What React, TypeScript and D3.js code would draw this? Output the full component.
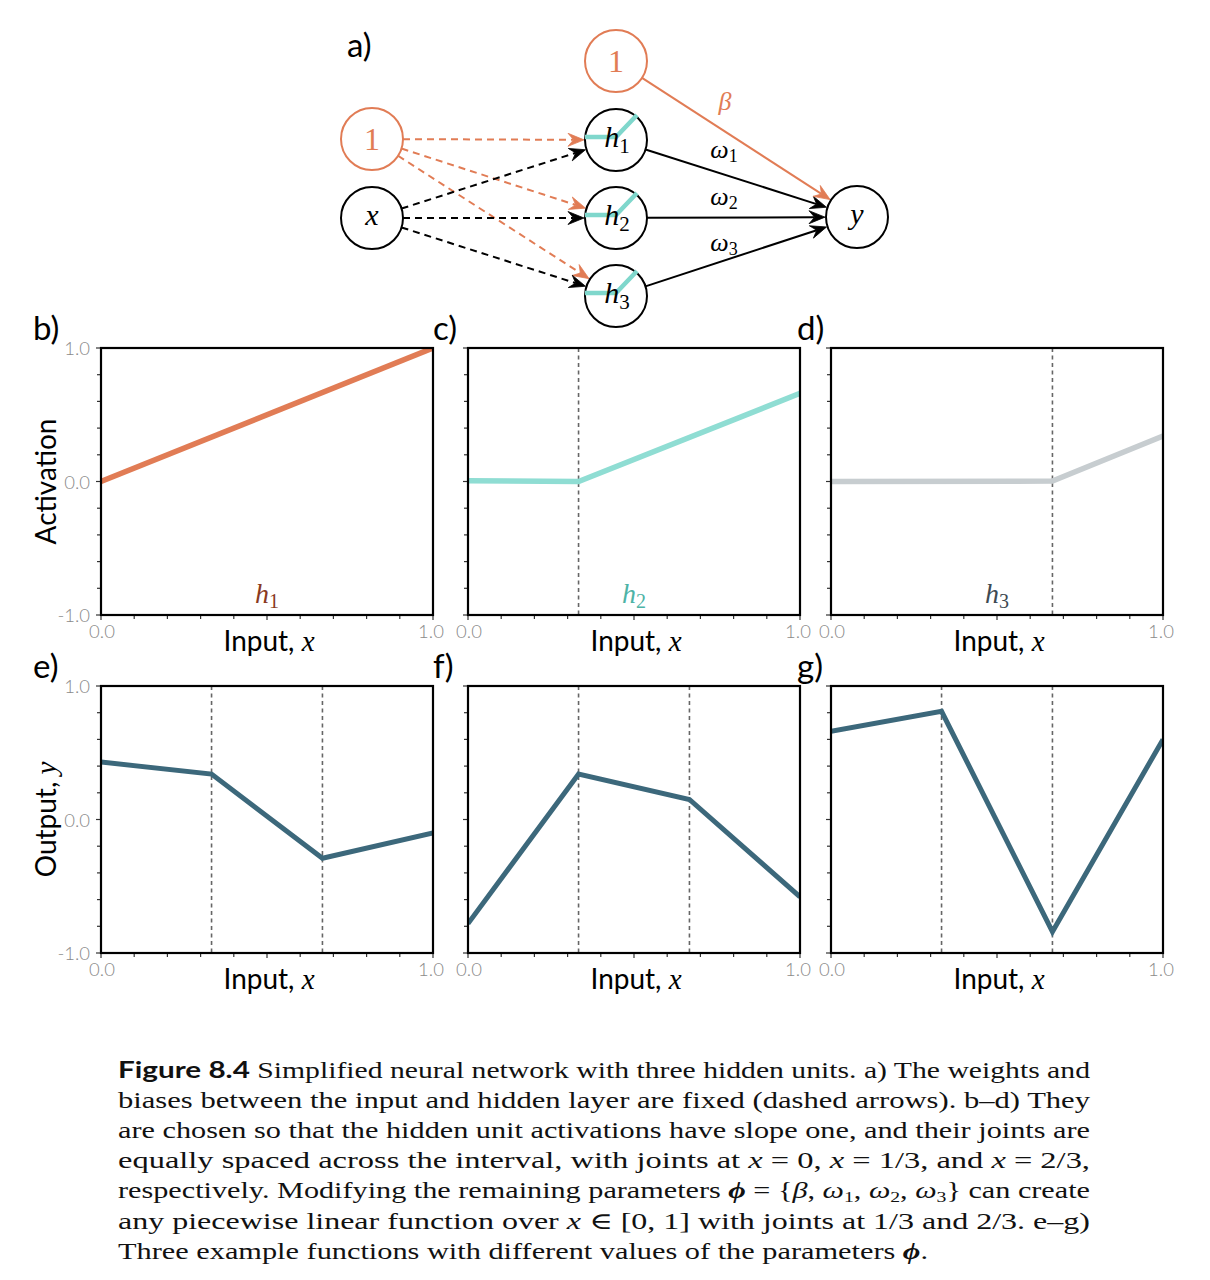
import React from "react";
import * as d3 from "d3";

// ---------- data ----------
const h1X = [0, 1];
const h1Y = [0, 1];
const h2X = [0, 0.333, 1];
const h2Y = [0.005, 0, 0.66];
const h3X = [0, 0.667, 1];
const h3Y = [0, 0.003, 0.34];
const outX = [0, 0.333, 0.667, 1];
const eY = [0.43, 0.34, -0.29, -0.1];
const fY = [-0.78, 0.34, 0.15, -0.58];
const gY = [0.66, 0.81, -0.84, 0.6];
const joints1 = [0.333];
const joints2 = [0.667];
const jointsOut = [0.333, 0.667];
const xTickVals = [0, 0.1, 0.2, 0.3, 0.4, 0.5, 0.6, 0.7, 0.8, 0.9, 1];
const yTickVals = [-1, -0.8, -0.6, -0.4, -0.2, 0, 0.2, 0.4, 0.6, 0.8, 1];
const xTickLabels = ["0.0", "1.0"];
const yTickLabels = ["-1.0", "0.0", "1.0"];
const panelLetters = ["b)", "c)", "d)", "e)", "f)", "g)"];

const ORANGE = "#E17C55";
const TEAL = "#8FDDD3";
const GRAYL = "#C7CDD0";
const DARK = "#3C687B";
const SANS = "Lato, 'Open Sans', sans-serif";
const SERIF = "'Liberation Serif', 'DejaVu Serif', serif";

const colLeft = [101, 468, 831];
const letterX = [33, 433, 797];
const rowTop = [348, 686];
const PW = 332;
const PH = 267;

type PanelSpec = {
  col: number;
  row: number;
  xs: number[];
  ys: number[];
  color: string;
  width: number;
  joints: number[];
  hLabel?: { sub: string; color: string };
  yLabel?: string;
};

const panels: PanelSpec[] = [
  { col: 0, row: 0, xs: h1X, ys: h1Y, color: ORANGE, width: 5.5, joints: [], hLabel: { sub: "1", color: "#8A3A1E" }, yLabel: "Activation" },
  { col: 1, row: 0, xs: h2X, ys: h2Y, color: TEAL, width: 5.5, joints: joints1, hLabel: { sub: "2", color: "#4DB3A6" } },
  { col: 2, row: 0, xs: h3X, ys: h3Y, color: GRAYL, width: 5.5, joints: joints2, hLabel: { sub: "3", color: "#3E4A52" } },
  { col: 0, row: 1, xs: outX, ys: eY, color: DARK, width: 5, joints: jointsOut, yLabel: "Output" },
  { col: 1, row: 1, xs: outX, ys: fY, color: DARK, width: 5, joints: jointsOut },
  { col: 2, row: 1, xs: outX, ys: gY, color: DARK, width: 5, joints: jointsOut },
];

function Panel({ p, idx }: { p: PanelSpec; idx: number }) {
  const left = colLeft[p.col];
  const top = rowTop[p.row];
  const x = d3.scaleLinear().domain([0, 1]).range([left, left + PW]);
  const y = d3.scaleLinear().domain([-1, 1]).range([top + PH, top]);
  const line = d3
    .line<number>()
    .x((_, i) => x(p.xs[i]))
    .y((d) => y(d));
  const bottom = top + PH;
  return (
    <g>
      <defs>
        <clipPath id={`clip${idx}`}>
          <rect x={left} y={top} width={PW} height={PH} />
        </clipPath>
      </defs>
      {p.joints.map((j, i) => (
        <line key={i} x1={x(j)} x2={x(j)} y1={top} y2={bottom} stroke="#666" strokeWidth={1.6} strokeDasharray="4,3.5" />
      ))}
      <path d={line(p.ys) || ""} fill="none" stroke={p.color} strokeWidth={p.width} strokeLinejoin="miter" clipPath={`url(#clip${idx})`} />
      {xTickVals.map((t, i) => (
        <line key={"xt" + i} x1={x(t)} x2={x(t)} y1={bottom} y2={bottom + (t === 0 || t === 0.5 || t === 1 ? 5 : 4)} stroke="#333" strokeWidth={1.2} />
      ))}
      {yTickVals.map((t, i) => (
        <line key={"yt" + i} x1={left} x2={left - (Math.abs(t) === 1 || t === 0 ? 5 : 4)} y1={y(t)} y2={y(t)} stroke="#333" strokeWidth={1.2} />
      ))}
      <rect x={left} y={top} width={PW} height={PH} fill="none" stroke="#000" strokeWidth={2.2} />
      {xTickLabels.map((l, i) => (
        <text key={"xl" + i} x={x(+l) + (i === 0 ? 1 : -2)} y={bottom + 23} textAnchor="middle" fontFamily={SANS} fontWeight={300} fontSize={18.5} fill="#8a8a8a">
          {l}
        </text>
      ))}
      {p.col === 0 &&
        yTickLabels.map((l, i) => (
          <text key={"yl" + i} x={left - 11} y={y(+l) + 7} textAnchor="end" fontFamily={SANS} fontWeight={300} fontSize={18.5} fill="#8a8a8a">
            {l}
          </text>
        ))}
      <text x={left + PW / 2 + 2} y={bottom + 36} textAnchor="middle" fontFamily={SANS} fontSize={28} fill="#000">
        Input,{" "}
        <tspan fontFamily={SERIF} fontStyle="italic" fontSize={29}>x</tspan>
      </text>
      {p.yLabel && (
        <text transform={`translate(${left - 45},${top + PH / 2}) rotate(-90)`} textAnchor="middle" fontFamily={SANS} fontSize={28} fill="#000">
          {p.yLabel}
          {p.yLabel === "Output" ? (
            <>
              ,{" "}
              <tspan fontFamily={SERIF} fontStyle="italic" fontSize={29}>y</tspan>
            </>
          ) : null}
        </text>
      )}
      {p.hLabel && (
        <text x={left + PW / 2} y={bottom - 12} textAnchor="middle" fontFamily={SERIF} fontStyle="italic" fontSize={28} fill={p.hLabel.color}>
          h
          <tspan fontStyle="normal" fontSize={20} dy={5}>{p.hLabel.sub}</tspan>
        </text>
      )}
      <text x={letterX[p.col]} y={top - 8} fontFamily={SANS} fontSize={33} fill="#000">
        {panelLetters[idx]}
      </text>
    </g>
  );
}

// ---------- network ----------
const R = 31;
const nodes: Record<string, { x: number; y: number }> = {
  top1: { x: 616, y: 61 },
  b1: { x: 372, y: 139 },
  x: { x: 372, y: 218 },
  h1: { x: 616, y: 140 },
  h2: { x: 616, y: 218 },
  h3: { x: 616, y: 296 },
  y: { x: 857, y: 217 },
};
type Edge = { from: string; to: string; color: string; dashed: boolean };
const edges: Edge[] = [
  { from: "b1", to: "h1", color: ORANGE, dashed: true },
  { from: "b1", to: "h2", color: ORANGE, dashed: true },
  { from: "b1", to: "h3", color: ORANGE, dashed: true },
  { from: "x", to: "h1", color: "#000", dashed: true },
  { from: "x", to: "h2", color: "#000", dashed: true },
  { from: "x", to: "h3", color: "#000", dashed: true },
  { from: "h1", to: "y", color: "#000", dashed: false },
  { from: "h2", to: "y", color: "#000", dashed: false },
  { from: "h3", to: "y", color: "#000", dashed: false },
  { from: "top1", to: "y", color: ORANGE, dashed: false },
];

function Arrow({ e }: { e: Edge }) {
  const a = nodes[e.from];
  const b = nodes[e.to];
  const dx = b.x - a.x;
  const dy = b.y - a.y;
  const L = Math.hypot(dx, dy);
  const ux = dx / L;
  const uy = dy / L;
  const sx = a.x + ux * R;
  const sy = a.y + uy * R;
  const tx = b.x - ux * (R + 1);
  const ty = b.y - uy * (R + 1);
  const ah = 16;
  const aw = 6.5;
  const bx = tx - ux * ah;
  const by = ty - uy * ah;
  const nx = -uy;
  const ny = ux;
  const notchX = tx - ux * ah * 0.65;
  const notchY = ty - uy * ah * 0.65;
  const head = `M${tx},${ty} L${bx + nx * aw},${by + ny * aw} L${notchX},${notchY} L${bx - nx * aw},${by - ny * aw} Z`;
  return (
    <g>
      <line x1={sx} y1={sy} x2={notchX} y2={notchY} stroke={e.color} strokeWidth={2} strokeDasharray={e.dashed ? "7,5" : undefined} />
      <path d={head} fill={e.color} stroke={e.color} strokeWidth={0.8} strokeLinejoin="round" />
    </g>
  );
}

function Network() {
  return (
    <g>
      <text x={347} y={57} fontFamily={SANS} fontSize={33} fill="#000">a)</text>
      {edges.map((e, i) => (
        <Arrow key={i} e={e} />
      ))}
      {Object.entries(nodes).map(([k, n]) => (
        <circle key={k} cx={n.x} cy={n.y} r={R} fill="#fff" stroke={k === "top1" || k === "b1" ? ORANGE : "#000"} strokeWidth={2} />
      ))}
      {["h1", "h2", "h3"].map((k) => {
        const n = nodes[k];
        return (
          <path key={"g" + k} d={`M${n.x - R},${n.y - 3} L${n.x},${n.y - 3} L${n.x + 21},${n.y - 25}`} fill="none" stroke="#7FD7CC" strokeWidth={4.5} />
        );
      })}
      {["top1", "b1"].map((k) => (
        <text key={"t" + k} x={nodes[k].x} y={nodes[k].y + 11} textAnchor="middle" fontFamily={SERIF} fontSize={32} fill={ORANGE}>1</text>
      ))}
      <text x={nodes.x.x} y={nodes.x.y + 7} textAnchor="middle" fontFamily={SERIF} fontStyle="italic" fontSize={30}>x</text>
      <text x={nodes.y.x} y={nodes.y.y + 7} textAnchor="middle" fontFamily={SERIF} fontStyle="italic" fontSize={30}>y</text>
      {["h1", "h2", "h3"].map((k, i) => (
        <text key={"l" + k} x={nodes[k].x + 1} y={nodes[k].y + 7} textAnchor="middle" fontFamily={SERIF} fontStyle="italic" fontSize={30}>
          h<tspan fontStyle="normal" fontSize={21} dy={6}>{i + 1}</tspan>
        </text>
      ))}
      <text x={725} y={110} textAnchor="middle" fontFamily={SERIF} fontStyle="italic" fontSize={26} fill={ORANGE}>β</text>
      {[1, 2, 3].map((i) => (
        <text key={"w" + i} x={724} y={[158, 205, 251][i - 1]} textAnchor="middle" fontFamily={SERIF} fontStyle="italic" fontSize={26}>
          ω<tspan fontStyle="normal" fontSize={18} dy={4}>{i}</tspan>
        </text>
      ))}
    </g>
  );
}

// ---------- caption ----------
const CAP_LEFT = 118;
const CAP_TOP = 1078;
const CAP_LH = 30.1;
const capWidths = [972, 972, 972, 972, 972, 972, 810];

function Caption() {
  const it = (s: string) => <tspan fontStyle="italic">{s}</tspan>;
  const phi = <tspan fontStyle="italic" fontWeight="bold">ϕ</tspan>;
  const w = (n: string, after: string) => (
    <>
      <tspan fontStyle="italic">ω</tspan>
      <tspan fontSize={15} dy={4}>{n}</tspan>
      <tspan dy={-4}>{after}</tspan>
    </>
  );
  const lines: React.ReactNode[] = [
    <>
      <tspan fontFamily={SANS} fontWeight="bold">Figure 8.4</tspan> Simplified neural network with three hidden units. a) The weights and
    </>,
    <>biases between the input and hidden layer are fixed (dashed arrows). b–d) They</>,
    <>are chosen so that the hidden unit activations have slope one, and their joints are</>,
    <>
      equally spaced across the interval, with joints at {it("x")} = 0, {it("x")} = 1/3, and {it("x")} = 2/3,
    </>,
    <>
      respectively. Modifying the remaining parameters {phi} = {"{"}
      {it("β")}, {w("1", ", ")}
      {w("2", ", ")}
      {w("3", "} can create")}
    </>,
    <>
      any piecewise linear function over {it("x")} ∈ [0, 1] with joints at 1/3 and 2/3.{"  "}e–g)
    </>,
    <>Three example functions with different values of the parameters {phi}.</>,
  ];
  return (
    <g>
      {lines.map((l, i) => (
        <text key={i} x={CAP_LEFT} y={CAP_TOP + i * CAP_LH} fontFamily={SERIF} fontSize={23} fill="#111" textLength={capWidths[i]} lengthAdjust="spacingAndGlyphs">
          {l}
        </text>
      ))}
    </g>
  );
}

export default function App() {
  return (
    <>
      <style>{`body{margin:0;background:#fff}`}</style>
      <svg width={1210} height={1280} viewBox="0 0 1210 1280" style={{ display: "block", background: "#fff" }}>
        <Network />
        {panels.map((p, i) => (
          <Panel key={i} p={p} idx={i} />
        ))}
        <Caption />
      </svg>
    </>
  );
}
